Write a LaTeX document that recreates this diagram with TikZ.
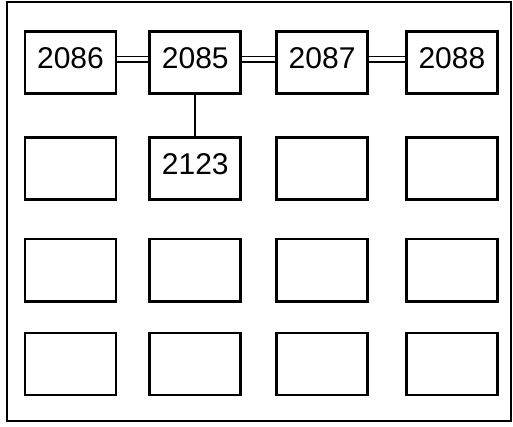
\documentclass[tikz,border=0pt]{standalone}
\usepackage{fontspec}
\setmainfont{Liberation Sans}
\usetikzlibrary{positioning}
\tikzset{
  cell/.style={draw,line width=2.8pt,minimum width=91pt,minimum height=62pt,inner sep=0pt,font=\fontsize{30}{32}\selectfont,text depth=9pt},
  bus/.style={double,double distance=4pt,line width=1.8pt},
  tie/.style={line width=2pt},
  frame/.style={line width=2pt},
}
\begin{document}
\begin{tikzpicture}
\useasboundingbox (0pt,0pt) rectangle (513pt,-427pt);
\draw[frame] (7pt,-2pt) rectangle (511pt,-421pt);
% top row
\node[cell] (n2086) at (70.5pt,-62.5pt) {2086};
\node[cell,right=31pt of n2086] (n2085) {2085};
\node[cell,right=33pt of n2085] (n2087) {2087};
\node[cell,right=36pt of n2087] (n2088) {2088};
% second row
\node[cell,below=41pt of n2086] (e21) {};
\node[cell,below=41pt of n2085] (n2123) {2123};
\node[cell,below=41pt of n2087] (e23) {};
\node[cell,below=41pt of n2088] (e24) {};
% third row
\node[cell,below=37pt of e21] (e31) {};
\node[cell,below=37pt of n2123] (e32) {};
\node[cell,below=37pt of e23] (e33) {};
\node[cell,below=37pt of e24] (e34) {};
% bottom row
\node[cell,below=29pt of e31] (e41) {};
\node[cell,below=29pt of e32] (e42) {};
\node[cell,below=29pt of e33] (e43) {};
\node[cell,below=29pt of e34] (e44) {};
% links
\draw[bus] ([yshift=3pt]n2086.east) -- ([yshift=3pt]n2085.west);
\draw[bus] ([yshift=3pt]n2085.east) -- ([yshift=3pt]n2087.west);
\draw[bus] ([yshift=3pt]n2087.east) -- ([yshift=3pt]n2088.west);
\draw[tie] (n2085) -- (n2123);
\end{tikzpicture}
\end{document}
